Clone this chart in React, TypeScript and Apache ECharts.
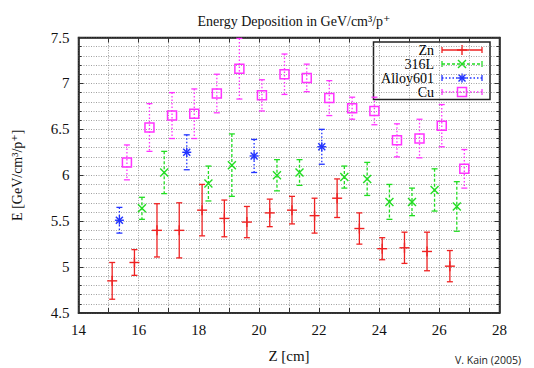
import React, { useEffect, useRef } from 'react';
import * as echarts from 'echarts';

// Zn
const znZ = [15.12, 15.86, 16.61, 17.35, 18.11, 18.85, 19.6, 20.36, 21.1, 21.85, 22.6, 23.34, 24.1, 24.84, 25.59, 26.35];
const znE = [4.85, 5.05, 5.4, 5.4, 5.62, 5.53, 5.49, 5.59, 5.62, 5.56, 5.75, 5.42, 5.2, 5.21, 5.17, 5.01];
const znErr = [0.2, 0.14, 0.29, 0.3, 0.28, 0.2, 0.17, 0.15, 0.15, 0.19, 0.21, 0.17, 0.12, 0.17, 0.21, 0.17];
// 316L
const slZ = [16.11, 16.85, 18.32, 19.1, 20.6, 21.35, 22.84, 23.6, 24.34, 25.09, 25.84, 26.58];
const slE = [5.64, 6.03, 5.91, 6.11, 6.0, 6.03, 5.98, 5.96, 5.71, 5.71, 5.84, 5.66];
const slErr = [0.12, 0.23, 0.19, 0.34, 0.17, 0.14, 0.12, 0.18, 0.19, 0.15, 0.23, 0.27];
// Alloy601
const alZ = [15.36, 17.6, 19.84, 22.09];
const alE = [5.51, 6.25, 6.21, 6.31];
const alErr = [0.14, 0.19, 0.18, 0.19];
// Cu
const cuZ = [15.61, 16.36, 17.11, 17.85, 18.6, 19.35, 20.1, 20.85, 21.59, 22.34, 23.1, 23.84, 24.59, 25.34, 26.08, 26.83];
const cuE = [6.14, 6.52, 6.65, 6.67, 6.89, 7.16, 6.87, 7.1, 7.06, 6.84, 6.73, 6.7, 6.38, 6.4, 6.54, 6.07];
const cuErr = [0.19, 0.26, 0.25, 0.27, 0.21, 0.33, 0.17, 0.22, 0.15, 0.19, 0.12, 0.15, 0.18, 0.21, 0.23, 0.21];

const seriesNames = ['Zn', '316L', 'Alloy601', 'Cu'];
const seriesColors = ['#ee2222', '#22dd22', '#2233ff', '#ff33ff'];
const seriesDash: (number[] | null)[] = [null, [3, 2], [1.5, 2], [1.5, 2]];
const seriesMarker = ['plus', 'cross', 'star', 'square'];

const SERIF = '"Liberation Serif", "DejaVu Serif", serif';

function markerShapes(kind: string, x: number, y: number, color: string): any[] {
  const st = { stroke: color, lineWidth: 1.4, fill: 'none' };
  const ln = (x1: number, y1: number, x2: number, y2: number) => ({ type: 'line', shape: { x1, y1, x2, y2 }, style: st });
  if (kind === 'plus') return [ln(x - 5, y, x + 5, y), ln(x, y - 5, x, y + 5)];
  if (kind === 'cross') return [ln(x - 4, y - 4, x + 4, y + 4), ln(x - 4, y + 4, x + 4, y - 4)];
  if (kind === 'star')
    return [ln(x - 4.5, y, x + 4.5, y), ln(x, y - 4.5, x, y + 4.5), ln(x - 3.5, y - 3.5, x + 3.5, y + 3.5), ln(x - 3.5, y + 3.5, x + 3.5, y - 3.5)];
  return [{ type: 'rect', shape: { x: x - 4.5, y: y - 4.5, width: 9, height: 9 }, style: { stroke: color, lineWidth: 1.5, fill: 'none' } }];
}

function errSeries(idx: number, z: number[], e: number[], err: number[]) {
  const color = seriesColors[idx];
  const dash = seriesDash[idx];
  const marker = seriesMarker[idx];
  return {
    type: 'custom',
    name: seriesNames[idx],
    xAxisIndex: 0,
    yAxisIndex: 0,
    data: z.map((v, i) => [v, e[i], err[i]]),
    encode: { x: 0, y: 1 },
    renderItem: (_p: any, api: any) => {
      const x = api.value(0);
      const y = api.value(1);
      const d = api.value(2);
      const p = api.coord([x, y]);
      const t = api.coord([x, y + d]);
      const b = api.coord([x, y - d]);
      const capSt = { stroke: color, lineWidth: 1.3 };
      const children: any[] = [
        { type: 'line', shape: { x1: t[0], y1: t[1], x2: b[0], y2: b[1] }, style: { stroke: color, lineWidth: 1.3, lineDash: dash || undefined } },
        { type: 'line', shape: { x1: t[0] - 3, y1: t[1], x2: t[0] + 3, y2: t[1] }, style: capSt },
        { type: 'line', shape: { x1: b[0] - 3, y1: b[1], x2: b[0] + 3, y2: b[1] }, style: capSt },
        ...markerShapes(marker, p[0], p[1], color),
      ];
      return { type: 'group', children };
    },
    z: 3,
  };
}

function legendGraphic() {
  const left = 373.5;
  const top = 42;
  const w = 116.5;
  const h = 57.5;
  const items: any[] = [
    { type: 'rect', shape: { x: left, y: top, width: w, height: h }, style: { fill: '#fff', stroke: '#222', lineWidth: 1.5 } },
  ];
  const rowsY = [50, 64, 78, 92];
  seriesNames.forEach((nm, i) => {
    const y = rowsY[i];
    const color = seriesColors[i];
    items.push({
      type: 'text',
      x: 434,
      y,
      style: { text: nm, font: `14px ${SERIF}`, fill: '#000', align: 'right', verticalAlign: 'middle', lineHeight: 14 },
    });
    items.push({ type: 'line', shape: { x1: 442, y1: y, x2: 482, y2: y }, style: { stroke: color, lineWidth: 1.3, lineDash: seriesDash[i] || undefined } });
    items.push({ type: 'line', shape: { x1: 442, y1: y - 3, x2: 442, y2: y + 3 }, style: { stroke: color, lineWidth: 1.3 } });
    items.push({ type: 'line', shape: { x1: 482, y1: y - 3, x2: 482, y2: y + 3 }, style: { stroke: color, lineWidth: 1.3 } });
    markerShapes(seriesMarker[i], 462, y, color).forEach((m) => items.push(m));
  });
  return { type: 'group', z: 100, children: items };
}

export default function App() {
  const ref = useRef<HTMLDivElement>(null);
  useEffect(() => {
    if (!ref.current) return;
    const chart = echarts.init(ref.current, undefined, { renderer: 'svg' });
    const gridLine = { show: true, lineStyle: { color: '#a0a0a0', width: 1, type: [1, 1.5] as any } };
    const axisText = { fontFamily: SERIF, fontSize: 15, color: '#111' };
    chart.setOption({
      animation: false,
      backgroundColor: '#fff',
      title: {
        text: 'Energy Deposition in GeV/cm³/p⁺',
        left: 289,
        top: 9,
        textAlign: 'center',
        textStyle: { fontFamily: SERIF, fontSize: 14, fontWeight: 'normal', color: '#111' },
      },
      grid: { left: 78.5, right: 34.5, top: 37.5, bottom: 54.5, show: true, borderColor: '#222', borderWidth: 1.5, backgroundColor: 'transparent' },
      xAxis: [
        {
          type: 'value',
          min: 14,
          max: 28,
          interval: 2,
          name: 'Z [cm]',
          nameLocation: 'middle',
          nameGap: 35,
          nameTextStyle: { fontFamily: SERIF, fontSize: 15, color: '#111' },
          axisLine: { show: true, onZero: false, lineStyle: { color: '#222', width: 1.5 } },
          axisTick: { show: true, inside: true, length: 5, lineStyle: { color: '#333' } },
          minorTick: { show: true, splitNumber: 2, length: 5, lineStyle: { color: '#333' } },
          axisLabel: { ...axisText, margin: 9 },
          splitLine: gridLine,
          minorSplitLine: gridLine,
        },
        {
          type: 'value',
          position: 'top',
          min: 14,
          max: 28,
          interval: 2,
          axisLine: { show: true, onZero: false, lineStyle: { color: '#222', width: 1.5 } },
          axisTick: { show: true, inside: true, length: 5, lineStyle: { color: '#333' } },
          minorTick: { show: true, splitNumber: 2, length: 5, lineStyle: { color: '#333' } },
          axisLabel: { show: false },
          splitLine: { show: false },
        },
      ],
      yAxis: [
        {
          type: 'value',
          min: 4.5,
          max: 7.5,
          interval: 0.5,
          name: 'E [GeV/cm³/p⁺]',
          nameLocation: 'middle',
          nameGap: 54,
          nameRotate: 90,
          nameTextStyle: { fontFamily: SERIF, fontSize: 14, color: '#111' },
          axisLine: { show: true, onZero: false, lineStyle: { color: '#222', width: 1.5 } },
          axisTick: { show: true, inside: true, length: 5, lineStyle: { color: '#333' } },
          minorTick: { show: true, splitNumber: 5, length: 3, lineStyle: { color: '#333' } },
          axisLabel: { ...axisText, margin: 9 },
          splitLine: gridLine,
          minorSplitLine: gridLine,
        },
        {
          type: 'value',
          position: 'right',
          min: 4.5,
          max: 7.5,
          interval: 0.5,
          axisLine: { show: true, onZero: false, lineStyle: { color: '#222', width: 1.5 } },
          axisTick: { show: true, inside: true, length: 5, lineStyle: { color: '#333' } },
          minorTick: { show: true, splitNumber: 5, length: 3, lineStyle: { color: '#333' } },
          axisLabel: { show: false },
          splitLine: { show: false },
        },
      ],
      series: [
        errSeries(0, znZ, znE, znErr),
        errSeries(1, slZ, slE, slErr),
        errSeries(2, alZ, alE, alErr),
        errSeries(3, cuZ, cuE, cuErr),
      ],
      graphic: [
        legendGraphic(),
        {
          type: 'text',
          right: 13,
          top: 354,
          style: { text: 'V. Kain (2005)', font: '10.5px "Open Sans", sans-serif', fill: '#222' },
        },
      ],
    });
    return () => chart.dispose();
  }, []);
  return <div ref={ref} style={{ position: 'fixed', left: 0, top: 0, width: 534, height: 368 }} />;
}
